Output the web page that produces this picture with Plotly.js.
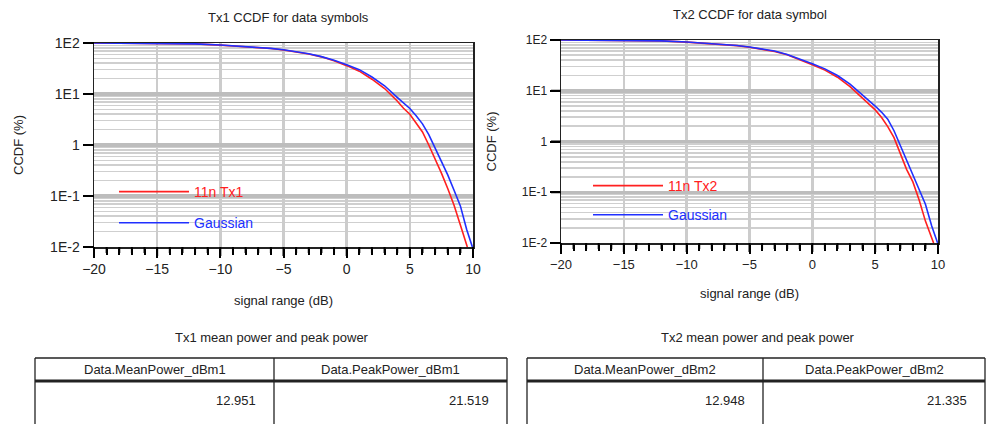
<!DOCTYPE html>
<html><head><meta charset="utf-8">
<script src="https://cdn.plot.ly/plotly-3.0.1.min.js"></script>
<style>html,body{margin:0;padding:0;background:#fff}#chart{width:987px;height:424px}</style>
</head><body><div id="chart"></div>
<script>
// ---- data ----
const tx1MeasX = [-20,-18,-16,-14,-12,-10,-8,-6,-5,-4,-3,-2,-1,0,1,2,3,4,4.5,5,5.5,6,6.5,7,7.5,8,8.5,9,9.55];
const tx1Meas  = [100,99.8,99.5,98.5,96,91,85,78,73,67,61,53.5,45,36,28,19.5,12.8,7.3,5.25,4.0,2.75,1.8,1.0,0.55,0.28,0.14,0.066,0.027,0.01];
const tx1GaussX = [-20,-18,-16,-14,-12,-10,-8,-6,-5,-4,-3,-2,-1,0,1,2,3,4,4.5,5,5.5,6,6.5,7,7.5,8,8.5,9,9.5,9.95];
const tx1Gauss  = [100,99.8,99.5,98.6,96.2,91.5,85.5,78.5,73.5,67.5,61.5,54,46,37.5,30,21.5,14.5,8.6,6.8,5.2,3.75,2.6,1.6,0.87,0.46,0.26,0.13,0.064,0.022,0.01];
const tx2MeasX = [-20,-18,-16,-14,-12,-10,-8,-6,-5,-4,-3,-2,-1,0,1,2,3,4,4.5,5,5.5,6,6.5,7,7.5,8,8.5,9,9.5,9.65];
const tx2Meas  = [100,99.8,99.5,98.5,96,91,85,77.5,72,66,59.5,51,41,32.5,25.5,18.5,12,7.0,5.6,4.2,3.0,1.96,1.19,0.575,0.283,0.16,0.07,0.027,0.012,0.01];
const tx2GaussX = [-20,-18,-16,-14,-12,-10,-8,-6,-5,-4,-3,-2,-1,0,1,2,3,4,4.5,5,5.5,6,6.5,7,7.5,8,8.5,9,9.5,9.97];
const tx2Gauss  = [100,99.8,99.5,98.6,96.2,91.5,85.5,78,73,67,60.5,52,42.5,34,27,20,13.5,8.3,6.5,5.0,3.8,2.75,1.63,0.85,0.42,0.22,0.12,0.058,0.0216,0.01];
const yTickVals = [0.01,0.1,1,10,100];
const yTickText = ['1E-2','1E-1','1','1E1','1E2'];
const tableHeaders1 = ['Data.MeanPower_dBm1','Data.PeakPower_dBm1'];
const tableValues1 = ['12.951','21.519'];
const tableHeaders2 = ['Data.MeanPower_dBm2','Data.PeakPower_dBm2'];
const tableValues2 = ['12.948','21.335'];
const seriesNames1 = ['11n Tx1','Gaussian'];
const seriesNames2 = ['11n Tx2','Gaussian'];

// ---- styling ----
const W = 987, H = 424;
const FONT = 'Liberation Sans, Arial, sans-serif';
const RED = '#ff2020', BLUE = '#2030ff';
const X_RANGE = [-20, 10], Y_RANGE = [-2, 2];
const minorY = [];
for (let e = -2; e < 2; e++) for (let d = 2; d <= 9; d++) minorY.push(d * Math.pow(10, e));

// plot areas in pixels (layout only)
const P1 = {l: 94, r: 473, t: 43, b: 247};
const P2 = {l: 561, r: 938, t: 40, b: 243};

function xAxis(p, anchor, fs, standoff) {
  return {domain: [p.l / W, p.r / W], anchor: anchor, range: X_RANGE, dtick: 5, tick0: -20,
    showline: true, linecolor: '#222', linewidth: 1.5, mirror: true,
    ticks: 'outside', ticklen: 9, tickwidth: 2, tickcolor: '#000',
    showgrid: true, gridcolor: '#cccccc', gridwidth: 2.5, zeroline: false,
    minor: {dtick: 1, tick0: -20, ticks: 'outside', ticklen: 6, tickwidth: 2, tickcolor: '#000', showgrid: false},
    tickfont: {family: FONT, size: fs, color: '#222'},
    title: {text: 'signal range (dB)', font: {family: FONT, size: 13, color: '#222'}, standoff: standoff}};
}
function yAxis(p, anchor, fs, standoff) {
  return {domain: [1 - p.b / H, 1 - p.t / H], anchor: anchor, type: 'log', range: Y_RANGE,
    tickmode: 'array', tickvals: yTickVals, ticktext: yTickText,
    showline: true, linecolor: '#222', linewidth: 1.5, mirror: true,
    ticks: 'outside', ticklen: 10, tickwidth: 2, tickcolor: '#000',
    showgrid: true, gridcolor: '#bdbdbd', gridwidth: 3.5,
    minor: {tickmode: 'array', tickvals: minorY, showgrid: true, gridcolor: '#cfcfcf', gridwidth: 1.6, ticks: ''},
    tickfont: {family: FONT, size: fs, color: '#222'},
    title: {text: 'CCDF (%)', font: {family: FONT, size: 13, color: '#222'}, standoff: standoff}};
}
function span(t, c) { return '<span style="color:' + c + '">' + t + '</span>'; }

const traces = [
  {x: tx1MeasX, y: tx1Meas, type: 'scatter', mode: 'lines', name: span(seriesNames1[0], RED),
   line: {color: RED, width: 1.6}, xaxis: 'x', yaxis: 'y', legend: 'legend', legendgroup: 'a'},
  {x: tx1GaussX, y: tx1Gauss, type: 'scatter', mode: 'lines', name: span(seriesNames1[1], BLUE),
   line: {color: BLUE, width: 1.6}, xaxis: 'x', yaxis: 'y', legend: 'legend', legendgroup: 'b'},
  {x: tx2MeasX, y: tx2Meas, type: 'scatter', mode: 'lines', name: span(seriesNames2[0], RED),
   line: {color: RED, width: 1.6}, xaxis: 'x2', yaxis: 'y2', legend: 'legend2', legendgroup: 'c'},
  {x: tx2GaussX, y: tx2Gauss, type: 'scatter', mode: 'lines', name: span(seriesNames2[1], BLUE),
   line: {color: BLUE, width: 1.6}, xaxis: 'x2', yaxis: 'y2', legend: 'legend2', legendgroup: 'd'}
];

const legendBase = {orientation: 'v', xanchor: 'left', yanchor: 'top', bgcolor: 'rgba(0,0,0,0)',
  borderwidth: 0, itemwidth: 70, font: {family: FONT, size: 14}};

function ann(text, x, y, xanchor) {
  return {text: text, x: x / W, y: 1 - y / H, xref: 'paper', yref: 'paper', xanchor: xanchor || 'center', yanchor: 'middle',
          showarrow: false, font: {family: FONT, size: 13, color: '#222'}};
}
function line(x0, y0, x1, y1, w, c) {
  return {type: 'line', xref: 'paper', yref: 'paper', x0: x0 / W, x1: x1 / W, y0: 1 - y0 / H, y1: 1 - y1 / H,
          line: {color: c || '#222', width: w}};
}
// axis tick marks drawn as decoration along each plot frame
function tickMarks(p) {
  const s = [];
  for (let v = X_RANGE[0]; v <= X_RANGE[1]; v++) {
    const px = p.l + (v - X_RANGE[0]) / (X_RANGE[1] - X_RANGE[0]) * (p.r - p.l);
    s.push(line(px, p.b, px, p.b + (v % 5 === 0 ? 9 : 6), 2, '#000'));
  }
  for (let k = Y_RANGE[0]; k <= Y_RANGE[1]; k++) {
    const py = p.b - (k - Y_RANGE[0]) / (Y_RANGE[1] - Y_RANGE[0]) * (p.b - p.t);
    s.push(line(p.l - 10, py, p.l, py, 2, '#000'));
  }
  return s;
}
// simple two-column tables built from shapes and text annotations
function table(left, mid, right, headers, values) {
  const top = 358, hdr = 381, bottom = 430;
  const shapes = [line(left, top, right, top, 1.3), line(left, hdr, right, hdr, 3),
                  line(left, top, left, bottom, 1.3), line(mid, top, mid, bottom, 1.3), line(right, top, right, bottom, 1.3)];
  const anns = [ann(headers[0], (left + mid) / 2, 369), ann(headers[1], (mid + right) / 2, 369),
                ann(values[0], mid - 16, 400, 'right'), ann(values[1], right - 16, 400, 'right')];
  return {shapes: shapes, anns: anns};
}
const t1 = table(35, 274, 507, tableHeaders1, tableValues1);
const t2 = table(527, 763, 985, tableHeaders2, tableValues2);

const layout = {
  width: W, height: H, margin: {l: 0, r: 0, t: 0, b: 0},
  paper_bgcolor: '#fff', plot_bgcolor: '#fff', showlegend: true,
  xaxis: xAxis(P1, 'y', 14, 19),
  yaxis: yAxis(P1, 'x', 14, 23),
  xaxis2: xAxis(P2, 'y2', 13, 18),
  yaxis2: yAxis(P2, 'x2', 12, 22),
  legend: Object.assign({}, legendBase, {x: 114 / W, y: 1 - 176 / H, tracegroupgap: 10}),
  legend2: Object.assign({}, legendBase, {x: 588 / W, y: 1 - 170 / H, tracegroupgap: 8}),
  annotations: [
    ann('Tx1 CCDF for data symbols', 288, 17),
    ann('Tx2 CCDF for data symbol', 750, 15),
    ann('Tx1 mean power and peak power', 272, 337),
    ann('Tx2 mean power and peak power', 758, 337)
  ].concat(t1.anns, t2.anns),
  shapes: t1.shapes.concat(t2.shapes, tickMarks(P1), tickMarks(P2))
};

Plotly.newPlot('chart', traces, layout, {displayModeBar: false, staticPlot: true});
</script></body></html>
